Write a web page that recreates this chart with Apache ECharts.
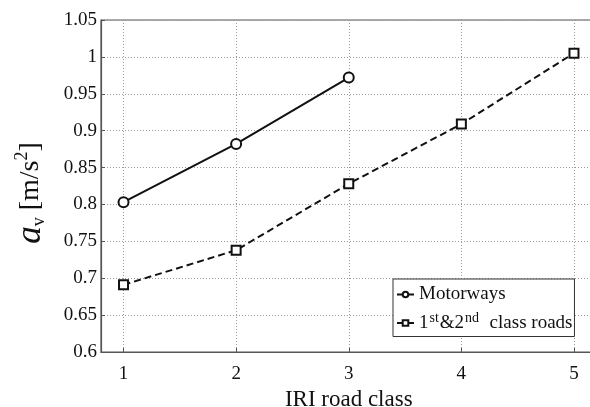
<!DOCTYPE html>
<html><head><meta charset="utf-8">
<script src="https://cdn.jsdelivr.net/npm/echarts@6/dist/echarts.min.js"></script>
<style>html,body{margin:0;padding:0;background:#fff}#c{width:590px;height:407px}</style>
</head><body><div id="c"></div>
<script>
const xClasses = [1, 2, 3, 4, 5];
const motorways = [0.803, 0.882, 0.972];
const classRoads = [0.691, 0.738, 0.828, 0.909, 1.005];
const seriesNames = ['Motorways', '1st&2nd class roads'];

const F = 'Liberation Serif, Times New Roman, serif';
const chart = echarts.init(document.getElementById('c'));
chart.setOption({
  animation: false,
  backgroundColor: '#fff',
  grid: {left: 101, top: 20, right: -6.5, bottom: 55, outerBoundsMode: 'none', containLabel: false,
    show: true, borderColor: '#555', borderWidth: 1.2, backgroundColor: 'transparent'},
  legend: {
    left: 393, top: 279, orient: 'vertical',
    backgroundColor: '#fff', borderColor: '#333', borderWidth: 1,
    padding: [6, 2, 4, 3], itemGap: 7, itemWidth: 17, itemHeight: 7,
    data: seriesNames,
    formatter: function (n) {
      if (n === 'Motorways') return '{n|Motorways}';
      return '{n|1}{s|st}{n|&2}{s|nd}{n|  class roads}';
    },
    textStyle: {
      fontFamily: F, color: '#111', padding: [0, 0, 0, 0],
      rich: {
        n: {fontFamily: F, fontSize: 19, color: '#111', lineHeight: 24},
        s: {fontFamily: F, fontSize: 14, color: '#111', verticalAlign: 'top', lineHeight: 14, padding: [0, 1, 0, 1]}
      }
    }
  },
  xAxis: {
    type: 'value', min: 0.8, max: 5.2,
    name: 'IRI road class', nameLocation: 'middle', nameGap: 34,
    nameTextStyle: {fontFamily: F, fontSize: 23, color: '#111'},
    axisLine: {show: true, lineStyle: {color: '#555', width: 1.2}},
    axisTick: {show: true, inside: true, length: 4, customValues: xClasses, lineStyle: {color: '#555'}},
    axisLabel: {customValues: xClasses, fontFamily: F, fontSize: 19, color: '#111', margin: 13},
    splitLine: {show: true, lineStyle: {color: '#999', type: [1, 2], width: 1}}
  },
  yAxis: {
    type: 'value', min: 0.6, max: 1.05, interval: 0.05,
    name: '{a|a}{v|v}{u| [m/s}{s|2}{u|]}', nameLocation: 'middle', nameGap: 53, nameRotate: 90,
    nameTextStyle: {
      fontFamily: F, color: '#111', padding: [0, 14, 0, 0],
      rich: {
        a: {fontFamily: F, fontSize: 35, fontStyle: 'italic', color: '#111'},
        v: {fontFamily: F, fontSize: 18, color: '#111', verticalAlign: 'bottom', padding: [12, 0, 0, 0]},
        u: {fontFamily: F, fontSize: 28, color: '#111'},
        s: {fontFamily: F, fontSize: 18, color: '#111', verticalAlign: 'top', padding: [0, 0, 12, 0]}
      }
    },
    axisLine: {show: true, lineStyle: {color: '#555', width: 1.2}},
    axisTick: {show: true, inside: true, length: 4, lineStyle: {color: '#555'}},
    axisLabel: {fontFamily: F, fontSize: 19, color: '#111', margin: 4,
      formatter: v => String(Math.round(v * 100) / 100)},
    splitLine: {show: true, lineStyle: {color: '#999', type: [1, 2], width: 1}}
  },
  series: [
    {
      name: seriesNames[0], type: 'line',
      data: motorways.map((v, i) => [xClasses[i], v]),
      symbol: 'circle', symbolSize: 10, showAllSymbol: true,
      lineStyle: {color: '#111', width: 2},
      itemStyle: {color: '#fff', borderColor: '#111', borderWidth: 2}
    },
    {
      name: seriesNames[1], type: 'line',
      data: classRoads.map((v, i) => [xClasses[i], v]),
      symbol: 'rect', symbolSize: 9, showAllSymbol: true,
      lineStyle: {color: '#111', width: 2, type: [7, 4]},
      itemStyle: {color: '#fff', borderColor: '#111', borderWidth: 2}
    }
  ]
});
</script></body></html>
